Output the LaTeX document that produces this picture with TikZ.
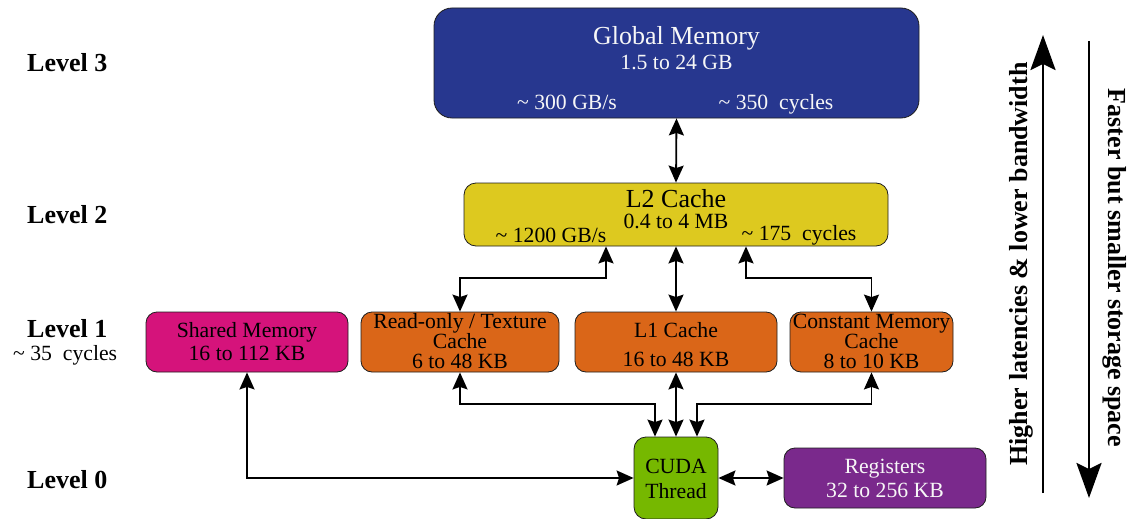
\documentclass[tikz,border=0pt]{standalone}
\usepackage{fontspec}
\setmainfont{Liberation Serif}
\usetikzlibrary{arrows.meta}

\definecolor{gmemfill}{HTML}{27378F}
\definecolor{ltwofill}{HTML}{DDC91F}
\definecolor{shmfill}{HTML}{D5137B}
\definecolor{cachefill}{HTML}{DA6618}
\definecolor{threadfill}{HTML}{76B800}
\definecolor{regfill}{HTML}{7A298C}
\definecolor{edge}{HTML}{1E1E1E}

\newcommand\apx{\textasciitilde}

\tikzset{
  memblock/.style={draw=edge, line width=0.8pt, rounded corners=#1, inner sep=0pt},
  memblock/.default=11pt,
  txt/.style={inner sep=0pt, anchor=base, font=\fontsize{21.7}{24}\selectfont},
  title/.style={inner sep=0pt, anchor=base, font=\fontsize{26}{28}\selectfont},
  lvl/.style={inner sep=0pt, anchor=base west, font=\fontsize{26}{28}\selectfont\bfseries},
  conn/.style={line width=1.8pt,
    {Stealth[length=17pt,width=15pt,inset=2.5pt]}-{Stealth[length=17pt,width=15pt,inset=2.5pt]}},
  trend/.style={line width=2.7pt, -{Stealth[length=35pt,width=25pt,inset=6pt]}},
}

\begin{document}
\begin{tikzpicture}[x=1pt, y=-1pt]
\useasboundingbox (0,0) rectangle (1135,519);

% ---- memory blocks ----
\node[memblock=18pt, fill=gmemfill, minimum width=485pt, minimum height=110pt] (GM) at (676.5,63) {};
\node[memblock=12pt, fill=ltwofill, minimum width=424pt, minimum height=63pt] (L2) at (676,214.5) {};
\node[memblock, fill=shmfill, minimum width=202pt, minimum height=60pt] (SM) at (247,342) {};
\node[memblock, fill=cachefill, minimum width=198pt, minimum height=60pt] (RO) at (460,342) {};
\node[memblock, fill=cachefill, minimum width=202pt, minimum height=60pt] (L1) at (676,342) {};
\node[memblock, fill=cachefill, minimum width=163pt, minimum height=60pt] (CM) at (871.5,342) {};
\node[memblock=12pt, fill=threadfill, minimum width=84pt, minimum height=82pt] (CT) at (676,478) {};
\node[memblock, fill=regfill, minimum width=202pt, minimum height=60pt] (RG) at (885,478) {};

% ---- block texts ----
\node[title, text=white!94!gray] (gmT) at (676.5,45) {Global Memory};
\node[txt, text=white!94!gray] (gmS) at (676.5,70) {1.5 to 24 GB};
\node[txt, text=white!94!gray] (gmB) at (567,109) {\apx\ 300 GB/s};
\node[txt, text=white!94!gray] (gmC) at (776,109) {\apx\ 350~~cycles};

\node[title] (l2T) at (676,207) {L2 Cache};
\node[txt] (l2S) at (676,228) {0.4 to 4 MB};
\node[txt] (l2B) at (551,242) {\apx\ 1200 GB/s};
\node[txt] (l2C) at (799,240) {\apx\ 175~~cycles};

\node[txt] (smT) at (247,337) {Shared Memory};
\node[txt] (smS) at (247,360) {16 to 112 KB};

\node[txt] (roT) at (460,328) {Read-only / Texture};
\node[txt] (roT2) at (460,348) {Cache};
\node[txt] (roS) at (460,368) {6 to 48 KB};

\node[txt] (l1T) at (676,337) {L1 Cache};
\node[txt] (l1S) at (676,366) {16 to 48 KB};

\node[txt] (cmT) at (871.5,328) {Constant Memory};
\node[txt] (cmT2) at (871.5,348) {Cache};
\node[txt] (cmS) at (871.5,368) {8 to 10 KB};

\node[txt] (ctT) at (676,473) {CUDA};
\node[txt] (ctT2) at (676,498) {Thread};

\node[txt, text=white!94!gray] (rgT) at (885,473) {Registers};
\node[txt, text=white!94!gray] (rgS) at (885,497) {32 to 256 KB};

% ---- level labels ----
\node[lvl] (lv3) at (27,72) {Level 3};
\node[lvl] (lv2) at (27,223) {Level 2};
\node[lvl] (lv1) at (27,337) {Level 1};
\node[txt, anchor=base west] (lv1c) at (13,360) {\apx\ 35~~cycles};
\node[lvl] (lv0) at (27,488) {Level 0};

% ---- bus coordinates ----
\coordinate (busUp) at (0,278);
\coordinate (busDn) at (0,404);
\coordinate (l2L) at ([xshift=-70pt]L2.south);
\coordinate (l2R) at ([xshift=70pt]L2.south);
\coordinate (ctL) at ([xshift=-21pt]CT.north);
\coordinate (ctR) at ([xshift=21pt]CT.north);

% ---- connectors ----
\draw[conn] (GM.south) -- (L2.north);
\draw[conn] (l2L) |- (busUp -| RO.north) -- (RO.north);
\draw[conn] (L2.south) -- (L1.north);
\draw[conn] (l2R) |- (busUp -| CM.north) -- (CM.north);

\draw[conn] (RO.south) |- (busDn -| ctL) -- (ctL);
\draw[conn] (L1.south) -- (CT.north);
\draw[conn] (CM.south) |- (busDn -| ctR) -- (ctR);
\draw[conn] (SM.south) |- (CT.west);
\draw[conn] (CT.east) -- (RG.west);

% ---- trend arrows ----
\coordinate (upS) at (1043,493);
\coordinate (upE) at (1043,35);
\coordinate (dnS) at (1089,41);
\coordinate (dnE) at (1089,498);
\draw[trend] (upS) -- (upE);
\draw[trend] (dnS) -- (dnE);
\node[inner sep=0pt, anchor=base, rotate=90, font=\fontsize{26}{28}\selectfont\bfseries] (upT) at (1027,264) {Higher latencies \& lower bandwidth};
\node[inner sep=0pt, anchor=base, rotate=-90, font=\fontsize{26}{28}\selectfont\bfseries] (dnT) at (1108,268) {Faster but smaller storage space};
\end{tikzpicture}
\end{document}
